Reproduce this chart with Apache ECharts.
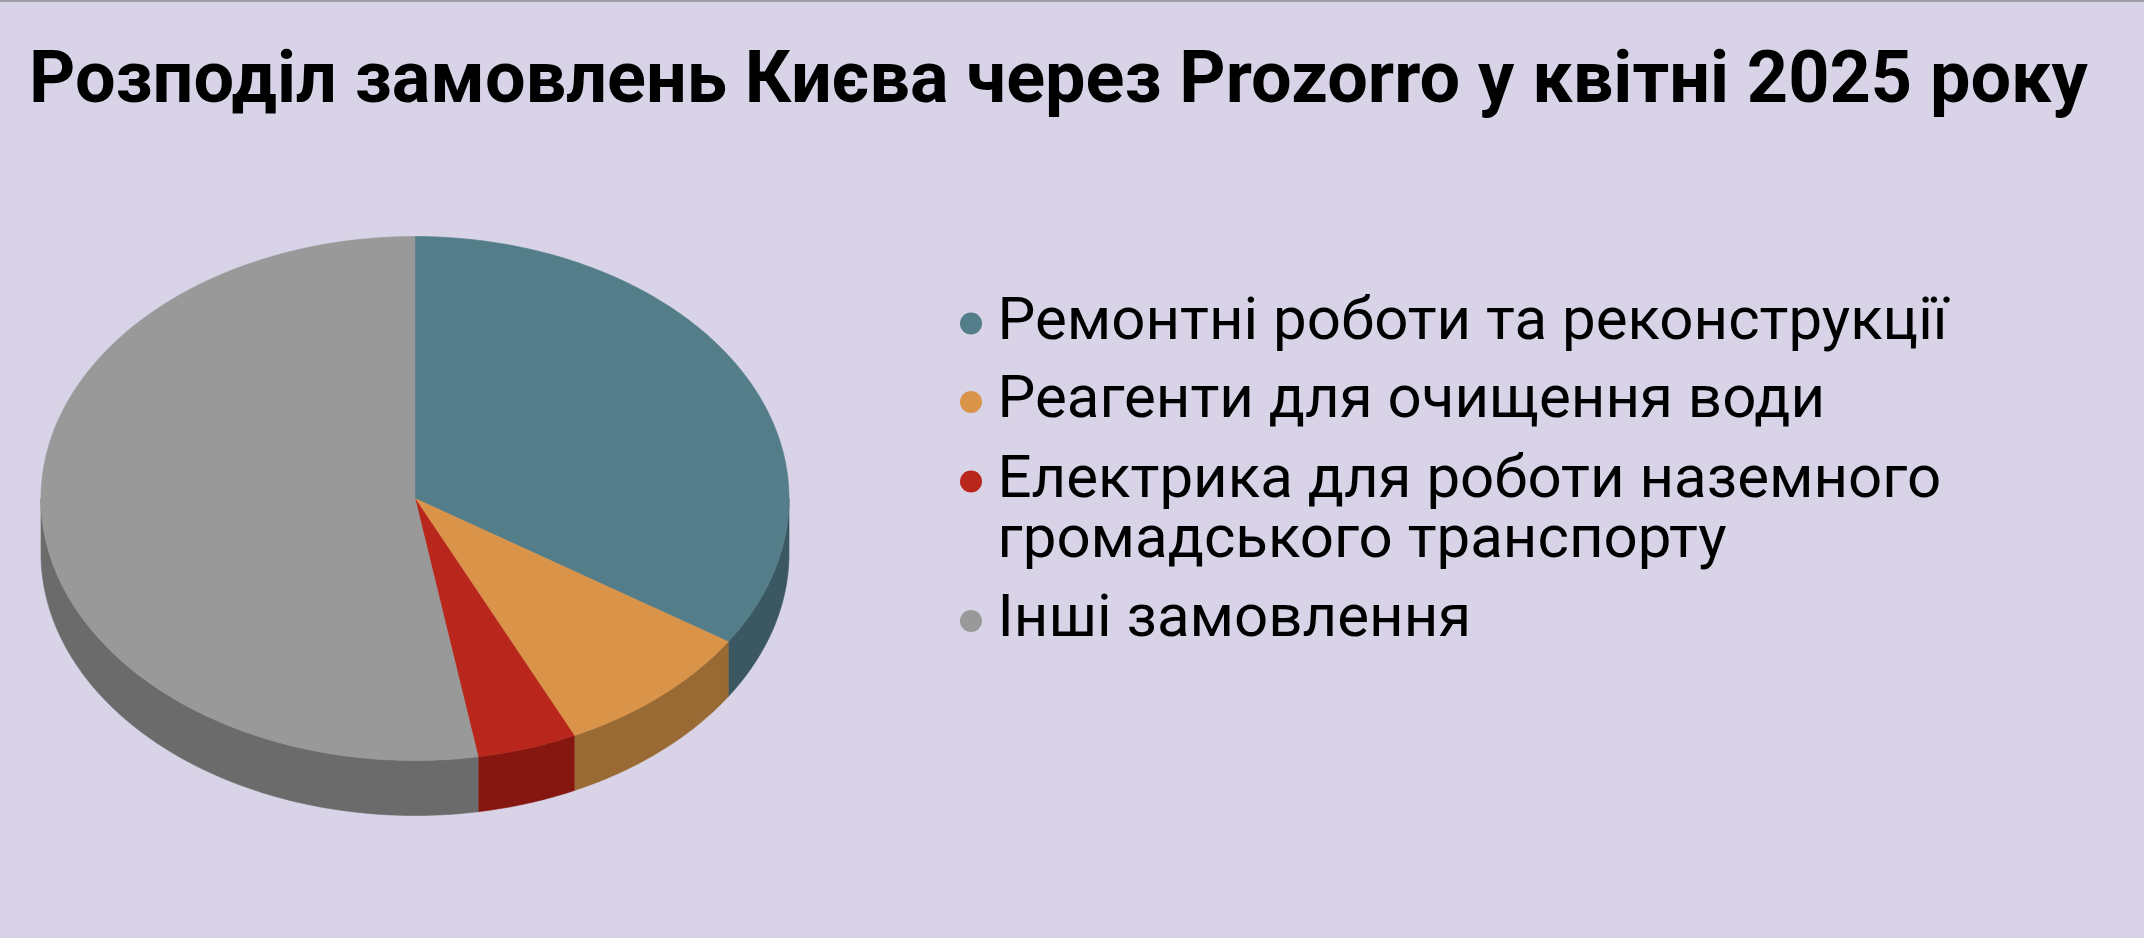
<!DOCTYPE html>
<html>
<head>
<meta charset="utf-8">
<script src="https://cdn.jsdelivr.net/npm/echarts@6/dist/echarts.min.js"></script>
<style>
html,body{margin:0;padding:0;background:#d8d3e7;}
#chart{width:2144px;height:938px;}
</style>
</head>
<body>
<div id="chart"></div>
<script>
const titleText = 'Розподіл замовлень Києва через Prozorro у квітні 2025 року';
const categories = [
  'Ремонтні роботи та реконструкції',
  'Реагенти для очищення води',
  'Електрика для роботи наземного громадського транспорту',
  'Інші замовлення'
];
const values = [34.2, 8.8, 4.3, 52.7];
const topColors = ['#537d89', '#d9944a', '#b9261b', '#999999'];
const sideColors = ['#3b5862', '#996a34', '#861710', '#6b6b6b'];

const total = values.reduce((s, v) => s + v, 0);
const starts = [];
values.reduce((acc, v, i) => { starts[i] = acc; return acc + v; }, 0);

// geometry of the tilted pie
const CX = 415, CY = 498.5, RX = 374, RY = 262, DEPTH = 55;
function pt(deg, dy) {
  const r = deg * Math.PI / 180;
  return [CX + RX * Math.sin(r), CY - RY * Math.cos(r) + (dy || 0)];
}
function arc(a, b, dy) {
  const pts = [];
  const n = Math.max(2, Math.ceil(Math.abs(b - a) / 0.5));
  for (let k = 0; k <= n; k++) pts.push(pt(a + (b - a) * k / n, dy));
  return pts;
}
function angles(i, api) {
  const a = starts[i] / total * 360;
  const b = a + api.value(0) / total * 360;
  return [a, b];
}

function renderSide(params, api) {
  const i = params.dataIndex;
  const [a, b] = angles(i, api);
  const s = Math.max(a, 90), e = Math.min(b, 270);
  if (s >= e) return { type: 'group', children: [] };
  const pts = arc(s, e, 0).concat(arc(e, s, DEPTH));
  return {
    type: 'polygon',
    shape: { points: pts },
    style: { fill: sideColors[i], stroke: sideColors[i], lineWidth: 0.6 }
  };
}
function renderTop(params, api) {
  const i = params.dataIndex;
  const [a, b] = angles(i, api);
  const pts = [[CX, CY]].concat(arc(a, b, 0));
  return {
    type: 'polygon',
    shape: { points: pts },
    style: { fill: topColors[i], stroke: topColors[i], lineWidth: 0.6 }
  };
}

const seriesData = values.map((v, i) => ({ name: categories[i], value: v }));

function wrapLines(name) {
  const words = name.split(' ');
  const lines = [];
  let cur = '';
  words.forEach(w => {
    const t = cur ? cur + ' ' + w : w;
    if (t.length > 33 && cur) { lines.push(cur); cur = w; } else cur = t;
  });
  lines.push(cur);
  return lines;
}
// keep the marker level with the first line: pad the block on top with blank lines
function legendText(name) {
  const lines = wrapLines(name);
  const pad = [];
  for (let k = 1; k < lines.length; k++) pad.push(' ');
  return pad.concat(lines).join('\n');
}

const LINE_H = 60;
const legendCenters = [323.5, 402, 481.5, 621];
const legends = categories.map((name, i) => {
  const nLines = wrapLines(name).length;
  const boxH = (2 * nLines - 1) * LINE_H;
  return {
    data: [{ name: name, icon: 'circle', itemStyle: { color: topColors[i] } }],
    left: 960,
    top: legendCenters[i] - boxH / 2,
    padding: 0,
    itemWidth: 23,
    itemHeight: 22,
    itemGap: 0,
    selectedMode: false,
    formatter: legendText,
    textStyle: {
      fontFamily: 'Roboto',
      fontSize: 60,
      color: '#000',
      lineHeight: LINE_H,
      padding: [0, 0, 0, 10]
    }
  };
});

const chart = echarts.init(document.getElementById('chart'));
chart.setOption({
  backgroundColor: '#d8d3e7',
  animation: false,
  title: {
    text: titleText,
    left: 24,
    top: 43,
    textStyle: { fontFamily: 'Roboto', fontWeight: 'bold', fontSize: 72, color: '#000' }
  },
  graphic: [{
    type: 'rect', shape: { x: 0, y: 0, width: 2144, height: 2 },
    style: { fill: '#9e9da6' }, silent: true
  }],
  legend: legends,
  series: [
    {
      type: 'pie', name: 'legend',
      radius: [0, 0], center: [CX, CY],
      silent: true,
      label: { show: false }, labelLine: { show: false },
      data: seriesData.map((d, i) => ({ name: d.name, value: d.value, itemStyle: { color: topColors[i] } }))
    },
    {
      type: 'custom', name: 'sides', coordinateSystem: 'none',
      renderItem: renderSide, data: seriesData, z: 2, silent: true
    },
    {
      type: 'custom', name: 'tops', coordinateSystem: 'none',
      renderItem: renderTop, data: seriesData, z: 3, silent: true
    }
  ]
});
</script>
</body>
</html>
